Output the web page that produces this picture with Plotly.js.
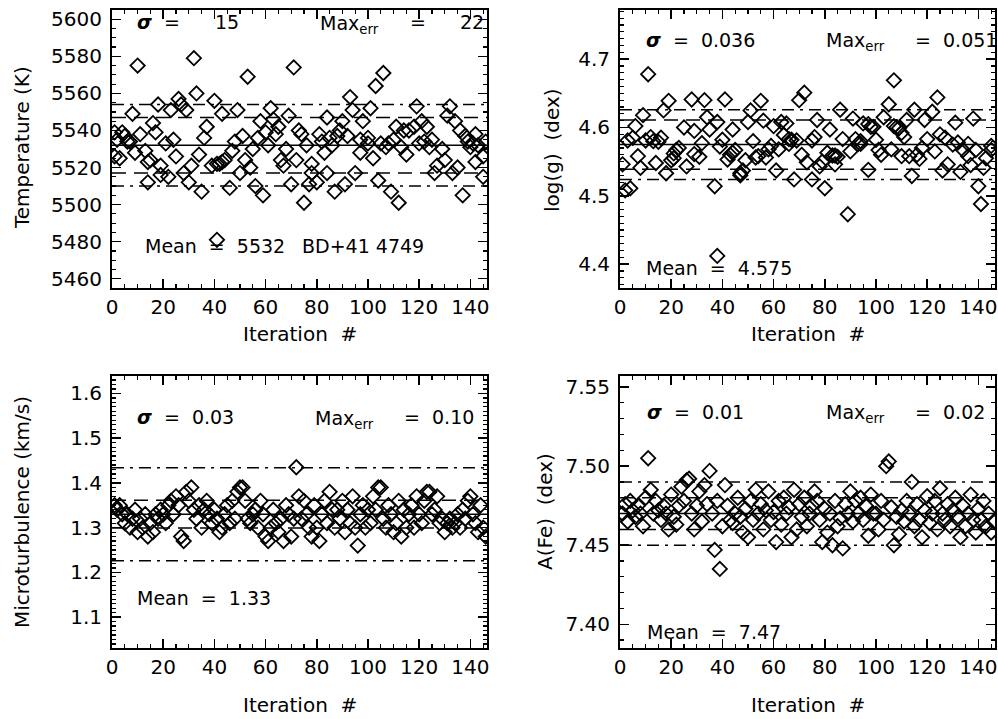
<!DOCTYPE html>
<html><head><meta charset="utf-8">
<script src="https://cdn.plot.ly/plotly-3.0.1.min.js"></script>
<style>body{margin:0;background:#fff}#c{width:998px;height:719px}</style></head>
<body><div id="c"></div>
<script>
// Panel 1: Temperature
const tIter=[1,1,2,3,4,5,6,7,8,9,10,11,13,14,14,15,16,17,18,19,19,21,22,23,24,25,26,27,28,29,30,31,32,33,34,35,36,37,41,39,40,41,42,43,43,44,46,47,48,49,50,51,52,53,54,55,56,57,58,59,60,61,62,63,64,65,66,67,68,69,70,71,72,73,74,75,76,77,78,78,80,81,82,83,84,84,85,86,87,88,89,90,91,92,93,94,95,97,97,98,100,100,101,102,103,104,105,106,107,108,109,110,111,112,113,114,115,116,118,119,120,121,122,123,124,125,126,127,129,130,131,132,133,134,135,136,137,138,139,140,141,142,142,143,145,145,146];
const tVal=[5539,5526,5535,5525,5539,5537,5534,5534,5549,5528,5575,5538,5529,5512,5523,5524,5544,5539,5554,5516,5521,5533,5515,5551,5535,5526,5557,5554,5517,5551,5512,5521,5579,5560,5527,5507,5536,5542,5481,5521,5556,5522,5522,5549,5523,5524,5509,5529,5534,5551,5517,5537,5524,5569,5520,5530,5510,5536,5545,5505,5539,5532,5552,5546,5538,5542,5524,5521,5530,5548,5511,5574,5524,5540,5538,5501,5532,5511,5522,5517,5512,5538,5534,5528,5517,5547,5536,5532,5507,5537,5540,5545,5511,5537,5558,5551,5517,5535,5528,5545,5533,5536,5552,5525,5564,5513,5533,5571,5531,5533,5507,5535,5542,5501,5531,5540,5527,5540,5542,5553,5533,5545,5534,5542,5531,5535,5517,5521,5530,5524,5548,5553,5517,5545,5520,5540,5505,5537,5534,5531,5533,5538,5523,5532,5526,5515,5534];
const tStats={mean:5532,sigma:15,maxerr:22};

// Panel 2: log(g)
const gIter=[1,2,3,4,5,6,7,8,9,10,11,12,13,14,15,16,17,18,19,20,21,21,22,23,25,26,28,29,29,31,32,33,34,35,37,38,39,38,40,41,42,43,44,44,45,47,47,48,49,50,51,52,53,54,55,56,57,58,59,60,61,62,63,64,65,66,66,67,68,69,70,71,72,73,75,76,75,77,78,79,80,81,82,83,84,84,85,86,87,89,90,91,92,93,94,94,95,97,97,98,99,100,101,102,103,105,106,107,107,108,109,110,110,111,112,113,114,115,116,117,118,119,120,122,123,124,125,126,127,128,130,131,132,133,134,136,136,137,138,139,140,141,142,143,145,145];
const gVal=[4.546,4.508,4.581,4.511,4.585,4.602,4.558,4.541,4.618,4.581,4.678,4.586,4.580,4.548,4.579,4.585,4.625,4.533,4.639,4.552,4.555,4.562,4.567,4.570,4.600,4.543,4.641,4.595,4.561,4.557,4.577,4.640,4.615,4.597,4.514,4.608,4.572,4.412,4.582,4.641,4.553,4.560,4.563,4.597,4.567,4.530,4.533,4.537,4.552,4.608,4.625,4.580,4.556,4.558,4.639,4.610,4.556,4.568,4.573,4.602,4.537,4.568,4.608,4.589,4.606,4.583,4.576,4.582,4.524,4.581,4.640,4.560,4.651,4.549,4.581,4.586,4.524,4.611,4.543,4.550,4.511,4.563,4.597,4.559,4.546,4.559,4.557,4.626,4.583,4.473,4.565,4.613,4.583,4.576,4.580,4.576,4.606,4.605,4.538,4.601,4.601,4.582,4.567,4.560,4.615,4.634,4.568,4.602,4.669,4.600,4.599,4.592,4.558,4.586,4.611,4.558,4.529,4.626,4.560,4.554,4.570,4.611,4.583,4.623,4.565,4.644,4.590,4.537,4.585,4.546,4.575,4.607,4.578,4.535,4.567,4.558,4.576,4.545,4.613,4.567,4.514,4.488,4.541,4.555,4.567,4.573];
const gStats={mean:4.575,sigma:0.036,maxerr:0.051};

// Panel 3: Microturbulence
const vIter=[1,2,3,4,5,6,7,8,9,10,11,12,13,14,15,16,17,18,19,20,21,22,23,24,25,26,27,28,29,30,31,32,33,34,35,36,37,38,39,40,41,42,43,44,45,46,47,48,49,50,51,52,53,54,55,56,57,58,59,60,61,62,63,64,65,66,67,68,69,70,71,72,73,74,75,76,77,78,79,80,81,82,83,84,85,86,87,88,89,90,91,92,93,94,95,96,97,98,99,100,101,102,103,104,105,106,107,108,109,110,111,112,113,114,115,116,117,118,119,120,121,122,123,124,125,126,127,128,129,130,131,132,133,134,135,136,137,138,139,140,141,142,143,144,145,146];
const vVal=[1.35,1.34,1.35,1.33,1.31,1.33,1.30,1.32,1.34,1.29,1.32,1.30,1.33,1.28,1.31,1.29,1.33,1.32,1.34,1.33,1.31,1.35,1.36,1.33,1.37,1.35,1.28,1.27,1.38,1.36,1.39,1.34,1.32,1.35,1.30,1.34,1.36,1.33,1.31,1.34,1.32,1.29,1.30,1.33,1.35,1.31,1.36,1.32,1.38,1.39,1.39,1.36,1.32,1.31,1.33,1.34,1.30,1.36,1.33,1.28,1.27,1.30,1.34,1.31,1.29,1.32,1.27,1.35,1.33,1.28,1.32,1.435,1.37,1.32,1.36,1.33,1.30,1.28,1.35,1.30,1.27,1.33,1.36,1.31,1.38,1.34,1.30,1.34,1.32,1.36,1.29,1.34,1.31,1.37,1.30,1.26,1.33,1.35,1.30,1.34,1.31,1.37,1.34,1.39,1.39,1.32,1.30,1.35,1.33,1.29,1.31,1.36,1.28,1.34,1.30,1.33,1.35,1.30,1.37,1.33,1.31,1.36,1.38,1.38,1.33,1.34,1.37,1.31,1.32,1.29,1.31,1.32,1.30,1.31,1.33,1.30,1.34,1.32,1.36,1.37,1.33,1.31,1.29,1.35,1.30,1.28];
const vStats={mean:1.33,sigma:0.031,maxerr:0.104};

// Panel 4: A(Fe)
const fIter=vIter.slice();
const fVal=[7.470,7.476,7.465,7.478,7.472,7.468,7.475,7.470,7.462,7.480,7.505,7.485,7.470,7.478,7.472,7.466,7.475,7.470,7.460,7.482,7.468,7.463,7.475,7.487,7.478,7.491,7.492,7.470,7.460,7.475,7.484,7.465,7.488,7.476,7.497,7.470,7.447,7.478,7.435,7.462,7.488,7.475,7.466,7.464,7.470,7.480,7.468,7.458,7.473,7.455,7.478,7.466,7.485,7.470,7.476,7.460,7.472,7.484,7.466,7.471,7.452,7.478,7.463,7.480,7.470,7.474,7.455,7.485,7.460,7.476,7.468,7.480,7.462,7.470,7.475,7.484,7.478,7.466,7.452,7.473,7.458,7.470,7.450,7.478,7.462,7.467,7.448,7.476,7.470,7.484,7.465,7.478,7.470,7.480,7.466,7.475,7.456,7.482,7.470,7.470,7.460,7.478,7.466,7.500,7.503,7.474,7.450,7.468,7.457,7.472,7.465,7.478,7.470,7.490,7.462,7.476,7.466,7.455,7.472,7.481,7.464,7.470,7.478,7.460,7.486,7.470,7.466,7.476,7.462,7.472,7.480,7.468,7.455,7.475,7.462,7.470,7.482,7.466,7.458,7.473,7.466,7.478,7.462,7.470,7.458,7.465];
const fStats={mean:7.47,sigma:0.01,maxerr:0.02};

const F='DejaVu Sans';
const W=998,H=719;
const px=x=>x/W, py=y=>1-y/H;

function xax(d0,d1,anchor){
  return {domain:[px(d0),px(d1)],range:[0,146.5],anchor,showline:true,linewidth:2,linecolor:'#000',mirror:'ticks',
    ticks:'inside',ticklen:9,tickwidth:1.5,tickcolor:'#000',dtick:20,tick0:0,
    minor:{ticks:'inside',ticklen:4,dtick:5,tickwidth:1.2,tickcolor:'#000',showgrid:false},
    showgrid:false,zeroline:false,tickfont:{family:F,size:20,color:'#000'},fixedrange:true};
}
function yax(top,bot,range,dtick,mdt,fmt,anchor){
  return {domain:[py(bot),py(top)],range,anchor,showline:true,linewidth:2,linecolor:'#000',mirror:'ticks',
    ticks:'inside',ticklen:9,tickwidth:1.5,tickcolor:'#000',dtick,tick0:0,tickformat:fmt,ticklabelstandoff:4,
    minor:{ticks:'inside',ticklen:4,dtick:mdt,tickwidth:1.2,tickcolor:'#000',showgrid:false},
    showgrid:false,zeroline:false,tickfont:{family:F,size:20,color:'#000'},fixedrange:true};
}

const panels=[
  {it:tIter,v:tVal,s:tStats,xa:'x',ya:'y'},
  {it:gIter,v:gVal,s:gStats,xa:'x2',ya:'y2'},
  {it:vIter,v:vVal,s:vStats,xa:'x3',ya:'y3'},
  {it:fIter,v:fVal,s:fStats,xa:'x4',ya:'y4'}
];
const data=panels.map(p=>({x:p.it,y:p.v,xaxis:p.xa,yaxis:p.ya,type:'scatter',mode:'markers',
  marker:{symbol:'diamond-open',size:11,color:'#000',line:{width:1.8,color:'#000'}},hoverinfo:'skip',showlegend:false}));

const shapes=[];
panels.forEach(p=>{
  const xr=p.xa==='x'?'x domain':p.xa+' domain';
  const add=(y,dash,w)=>shapes.push({type:'line',xref:xr,yref:p.ya,x0:0,x1:1,y0:y,y1:y,line:{color:'#000',width:w,dash}});
  add(p.s.mean,'solid',1.5);
  add(p.s.mean+p.s.sigma,'14px,8px',1.5);
  add(p.s.mean-p.s.sigma,'14px,8px',1.5);
  add(p.s.mean+p.s.maxerr,'12px,6px,3px,6px',1.5);
  add(p.s.mean-p.s.maxerr,'12px,6px,3px,6px',1.5);
});

const ann=[];
const T=(x,y,text,opt={})=>ann.push(Object.assign({xref:'paper',yref:'paper',x:px(x),y:py(y),text,showarrow:false,
  xanchor:'left',yanchor:'middle',font:{family:F,size:19,color:'#000'}},opt));
const sig='<b><i>σ</i></b>';
const mx='Max<sub>err</sub>';
// panel 1
T(135,22,sig+'  =');T(213,22,'15');T(318,24,mx);T(408,22,'=');T(458,22,'22');
T(143,246,'Mean  =  5532');T(300,246,'BD+41 4749');
// panel 2
T(644,40,sig+'  =  0.036');T(824,42,mx);T(913,40,'=  0.051');
T(644,268,'Mean  =  4.575');
// panel 3
T(135,417,sig+'  =  0.03');T(313,419,mx);T(402,417,'=  0.10');
T(135,598,'Mean  =  1.33');
// panel 4
T(645,412,sig+'  =  0.01');T(824,414,mx);T(913,412,'=  0.02');
T(645,632,'Mean  =  7.47');
// axis titles
const R=(x,y,text)=>T(x,y,text,{textangle:-90,xanchor:'center',yanchor:'middle',font:{family:F,size:20,color:'#000'}});
R(22,148,'Temperature (K)');R(552,150,'log(g)  (dex)');R(22,512,'Microturbulence (km/s)');R(545,512,'A(Fe)  (dex)');
const C=(x,y,text)=>T(x,y,text,{xanchor:'center',font:{family:F,size:20,color:'#000'}});
C(300,334,'Iteration  <i>#</i>');C(808,334,'Iteration  <i>#</i>');C(300,705,'Iteration  <i>#</i>');C(808,705,'Iteration  <i>#</i>');

const layout={width:W,height:H,margin:{l:0,r:0,t:0,b:0},paper_bgcolor:'#fff',plot_bgcolor:'#fff',showlegend:false,
  xaxis:xax(112,487,'y'),yaxis:yax(10,288,[5455,5605],20,5,'d','x'),
  xaxis2:xax(620,995,'y2'),yaxis2:yax(10,288,[4.365,4.772],0.1,0.01,'.1f','x2'),
  xaxis3:xax(112,487,'y3'),yaxis3:yax(376,648,[1.031,1.639],0.1,0.01,'.1f','x3'),
  xaxis4:xax(620,995,'y4'),yaxis4:yax(376,648,[7.385,7.557],0.05,0.01,'.2f','x4'),
  shapes,annotations:ann};
Plotly.newPlot('c',data,layout,{displayModeBar:false,staticPlot:true});
</script></body></html>
